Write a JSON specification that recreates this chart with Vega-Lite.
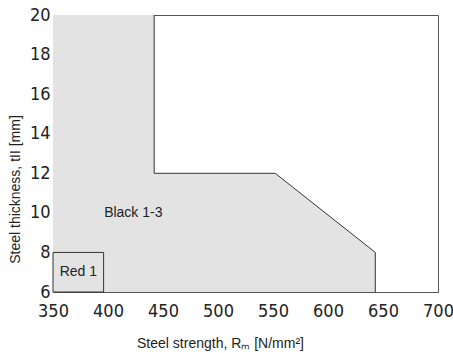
{
  "$schema": "https://vega.github.io/schema/vega-lite/v6.json",
  "autosize": "none",
  "width": 385,
  "height": 277,
  "padding": {"left": 53, "top": 15, "right": 15, "bottom": 61},
  "background": "white",
  "config": {
    "view": {"stroke": "#555555", "strokeWidth": 1},
    "axis": {"grid": false, "ticks": false, "domain": false, "labelOverlap": false, "labelFlush": false, "labelFont": "DejaVu Sans Condensed, Liberation Sans Narrow, sans-serif", "labelFontSize": 18, "labelColor": "#222222", "titleFont": "Liberation Sans, Arial, sans-serif", "titleFontSize": 14, "titleFontWeight": "normal", "titleColor": "#222222"}
  },
  "datasets": {
    "region": [
      {"strength": 350, "thickness": 20, "base": 6},
      {"strength": 442, "thickness": 20, "base": 6},
      {"strength": 442, "thickness": 12, "base": 6},
      {"strength": 552, "thickness": 12, "base": 6},
      {"strength": 643, "thickness": 8, "base": 6}
    ],
    "outline": [
      {"strength": 442, "thickness": 20, "order": 1},
      {"strength": 442, "thickness": 12, "order": 2},
      {"strength": 552, "thickness": 12, "order": 3},
      {"strength": 643, "thickness": 8, "order": 4},
      {"strength": 643, "thickness": 6, "order": 5}
    ],
    "red": [
      {"x1": 350, "x2": 396, "y1": 6, "y2": 8}
    ],
    "labels": [
      {"strength": 423, "thickness": 10, "text": "Black 1-3"},
      {"strength": 373, "thickness": 7, "text": "Red 1"}
    ]
  },
  "layer": [
    {
      "data": {"name": "region"},
      "mark": {"type": "area", "fill": "#e3e3e3", "interpolate": "linear"},
      "encoding": {
        "x": {"field": "strength", "type": "quantitative", "scale": {"domain": [350, 700], "nice": false, "zero": false}, "axis": {"values": [350, 400, 450, 500, 550, 600, 650, 700], "tickCount": 10, "labelFlush": false, "labelOverlap": false, "labelPadding": 10, "title": "Steel strength, Rₘ [N/mm²]", "titleX": 167, "titleY": 55, "titleBaseline": "alphabetic"}},
        "y": {"field": "thickness", "type": "quantitative", "scale": {"domain": [6, 20], "nice": false, "zero": false}, "axis": {"values": [6, 8, 10, 12, 14, 16, 18, 20], "tickCount": 10, "labelFlush": false, "labelOverlap": false, "labelPadding": 3, "title": "Steel thickness, tII [mm]", "titleY": 174, "titlePadding": 7}},
        "y2": {"field": "base"}
      }
    },
    {
      "data": {"name": "outline"},
      "mark": {"type": "line", "color": "#333333", "strokeWidth": 1},
      "encoding": {
        "x": {"field": "strength", "type": "quantitative"},
        "y": {"field": "thickness", "type": "quantitative"},
        "order": {"field": "order"}
      }
    },
    {
      "data": {"name": "red"},
      "mark": {"type": "rect", "fill": "#e3e3e3", "stroke": "#333333", "strokeWidth": 1},
      "encoding": {
        "x": {"field": "x1", "type": "quantitative"},
        "x2": {"field": "x2"},
        "y": {"field": "y1", "type": "quantitative"},
        "y2": {"field": "y2"}
      }
    },
    {
      "data": {"name": "labels"},
      "mark": {"type": "text", "font": "Liberation Sans, Arial, sans-serif", "fontSize": 14, "color": "#222222", "align": "center", "baseline": "middle"},
      "encoding": {
        "x": {"field": "strength", "type": "quantitative"},
        "y": {"field": "thickness", "type": "quantitative"},
        "text": {"field": "text"}
      }
    }
  ]
}
